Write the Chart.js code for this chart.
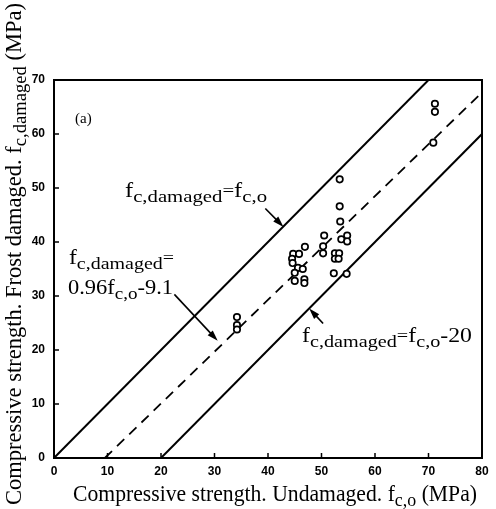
<!DOCTYPE html>
<html>
<head>
<meta charset="utf-8">
<script src="https://cdn.jsdelivr.net/npm/chart.js@4.4.0/dist/chart.umd.min.js"></script>
<style>
  html, body { margin: 0; padding: 0; background: #fff; }
  #wrap { width: 496px; height: 509px; }
</style>
</head>
<body>
<div id="wrap"><canvas id="chart" width="496" height="509"></canvas></div>
<script>
/* ============================================================
   DATA
============================================================ */

// measured specimens: undamaged vs. frost damaged strength (MPa)
const undamaged = [71.2, 71.2, 70.9, 53.4, 53.4, 53.5, 50.5, 53.7, 54.8, 54.8,
                   46.9, 50.3, 50.3, 52.5, 53.3, 52.5, 53.2, 44.7, 45.8, 44.5,
                   44.6, 45.6, 46.5, 45.0, 45.0, 46.8, 46.8, 52.3, 54.7, 34.2,
                   34.2, 34.2];
const damaged   = [65.6, 64.1, 58.4, 51.6, 46.6, 43.8, 41.2, 40.5, 41.2, 40.1,
                   39.1, 39.2, 37.9, 37.9, 37.9, 36.9, 36.9, 37.8, 37.8, 36.9,
                   36.1, 35.2, 35.0, 34.3, 32.8, 33.1, 32.4, 34.2, 34.1, 26.1,
                   24.6, 23.8];

// reference lines
const equalLineX = [0, 70];
const equalLineY = [0, 70];
const fitLineX   = [9.5, 80];     // fc,damaged = 0.96 fc,o - 9.1
const fitLineY   = [0, 67.7];
const lowerLineX = [20, 80];      // fc,damaged = fc,o - 20
const lowerLineY = [0, 60];

const xTicks = [0, 10, 20, 30, 40, 50, 60, 70, 80];
const yTicks = [0, 10, 20, 30, 40, 50, 60, 70];

// arrows (data coords): [fromX, fromY, toX, toY]
const arrowEqual = [39.5, 46.2, 42.9, 42.8];
const arrowFit   = [22.5, 30.3, 30.6, 21.7];
const arrowLower = [50.3, 24.9, 47.7, 27.7];


/* ============================================================
   HELPERS
============================================================ */

const SERIF = '"Liberation Serif", "DejaVu Serif", serif';

function toPoints(xs, ys) {
    return xs.map((x, i) => ({ x: x, y: ys[i] }));
}

// parts: [text, fontSize, baselineShift]
function richText(ctx, x, y, parts, width, rotate) {
    let total = 0;
    parts.forEach(p => {
        ctx.font = p[1] + "px " + SERIF;
        total += ctx.measureText(p[0]).width;
    });
    const sx = width ? width / total : 1;

    ctx.save();
    ctx.translate(x, y);
    if (rotate) ctx.rotate(-Math.PI / 2);
    ctx.scale(sx, 1);
    ctx.fillStyle = "#000";
    ctx.textBaseline = "alphabetic";
    ctx.textAlign = "left";
    let cx = 0;
    parts.forEach(p => {
        ctx.font = p[1] + "px " + SERIF;
        ctx.fillText(p[0], cx, p[2]);
        cx += ctx.measureText(p[0]).width;
    });
    ctx.restore();
}

function arrow(ctx, xs, ys, a) {
    const x1 = xs.getPixelForValue(a[0]), y1 = ys.getPixelForValue(a[1]);
    const x2 = xs.getPixelForValue(a[2]), y2 = ys.getPixelForValue(a[3]);
    const ang = Math.atan2(y2 - y1, x2 - x1);
    const len = 11, half = 3.5;

    ctx.save();
    ctx.strokeStyle = "#000";
    ctx.fillStyle = "#000";
    ctx.lineWidth = 1.6;
    ctx.beginPath();
    ctx.moveTo(x1, y1);
    ctx.lineTo(x2 - Math.cos(ang) * len * 0.8, y2 - Math.sin(ang) * len * 0.8);
    ctx.stroke();

    ctx.beginPath();
    ctx.moveTo(x2, y2);
    ctx.lineTo(x2 - Math.cos(ang) * len + Math.sin(ang) * half,
               y2 - Math.sin(ang) * len - Math.cos(ang) * half);
    ctx.lineTo(x2 - Math.cos(ang) * len - Math.sin(ang) * half,
               y2 - Math.sin(ang) * len + Math.cos(ang) * half);
    ctx.closePath();
    ctx.fill();
    ctx.restore();
}


/* ============================================================
   FRAME, TICKS, TEXT
============================================================ */

const decorPlugin = {
    id: "decor",
    afterDraw(chart) {
        const ctx = chart.ctx;
        const area = chart.chartArea;
        const xs = chart.scales.x;
        const ys = chart.scales.y;

        // box
        ctx.save();
        ctx.strokeStyle = "#000";
        ctx.lineWidth = 2;
        ctx.strokeRect(area.left, area.top, area.right - area.left, area.bottom - area.top);

        // inward tick marks
        ctx.lineWidth = 1.5;
        ctx.beginPath();
        xTicks.forEach(v => {
            const px = xs.getPixelForValue(v);
            ctx.moveTo(px, area.bottom);
            ctx.lineTo(px, area.bottom - 5);
        });
        yTicks.forEach(v => {
            const py = ys.getPixelForValue(v);
            ctx.moveTo(area.left, py);
            ctx.lineTo(area.left + 5, py);
        });
        ctx.stroke();
        ctx.restore();

        // panel label
        ctx.save();
        ctx.font = "15px " + SERIF;
        ctx.fillStyle = "#000";
        ctx.fillText("(a)", 75, 123);
        ctx.restore();

        // annotations
        richText(ctx, 125, 197, [["f", 20, 0], ["c,damaged", 17, 5], ["=", 17, -1],
                                 ["f", 20, 0], ["c,o", 17, 5]], 142);
        richText(ctx, 69, 264, [["f", 20, 0], ["c,damaged", 17, 5], ["=", 17, -1]], 105);
        richText(ctx, 68, 294, [["0.96f", 20, 0], ["c,o", 17, 5], ["-9.1", 20, 0]], 105);
        richText(ctx, 302, 342, [["f", 20, 0], ["c,damaged", 17, 5], ["=", 17, -1],
                                 ["f", 20, 0], ["c,o", 17, 5], ["-20", 20, 0]], 170);

        arrow(ctx, xs, ys, arrowEqual);
        arrow(ctx, xs, ys, arrowFit);
        arrow(ctx, xs, ys, arrowLower);

        // axis titles
        richText(ctx, 73, 501, [["Compressive strength. Undamaged. f", 23, 0],
                                ["c,o", 19, 5], [" (MPa)", 23, 0]], 404);
        richText(ctx, 21, 505, [["Compressive strength. Frost damaged. f", 23, 0],
                                ["c,damaged", 19, 5], [" (MPa)", 23, 0]], 502, true);
    }
};


/* ============================================================
   CHART
============================================================ */

const tickFont = { family: '"Liberation Sans", Arial, sans-serif', weight: "bold", size: 12 };

new Chart(document.getElementById("chart"), {
    type: "scatter",
    data: {
        datasets: [
            {
                label: "specimens",
                data: toPoints(undamaged, damaged),
                pointStyle: "circle",
                pointRadius: 3.2,
                borderWidth: 1.7,
                borderColor: "#000",
                backgroundColor: "#fff"
            },
            {
                label: "equal",
                data: toPoints(equalLineX, equalLineY),
                showLine: true, pointRadius: 0,
                borderColor: "#000", borderWidth: 2
            },
            {
                label: "fit",
                data: toPoints(fitLineX, fitLineY),
                showLine: true, pointRadius: 0,
                borderColor: "#000", borderWidth: 1.8,
                borderDash: [10, 7]
            },
            {
                label: "lower",
                data: toPoints(lowerLineX, lowerLineY),
                showLine: true, pointRadius: 0,
                borderColor: "#000", borderWidth: 2
            }
        ]
    },
    options: {
        responsive: false,
        animation: false,
        devicePixelRatio: 1,
        layout: { padding: { left: 0, top: 80, right: 14, bottom: 0 } },
        plugins: { legend: { display: false }, tooltip: { enabled: false } },
        scales: {
            x: {
                type: "linear", min: 0, max: 80,
                afterBuildTicks: s => { s.ticks = xTicks.map(v => ({ value: v })); },
                afterFit: s => { s.height = 51; },
                grid: { display: false, drawTicks: false },
                border: { display: false },
                ticks: { font: tickFont, color: "#000", padding: 6, maxRotation: 0 }
            },
            y: {
                type: "linear", min: 0, max: 70,
                afterBuildTicks: s => { s.ticks = yTicks.map(v => ({ value: v })); },
                afterFit: s => { s.width = 54; },
                grid: { display: false, drawTicks: false },
                border: { display: false },
                ticks: { font: tickFont, color: "#000", padding: 9 }
            }
        }
    },
    plugins: [decorPlugin]
});
</script>
</body>
</html>
